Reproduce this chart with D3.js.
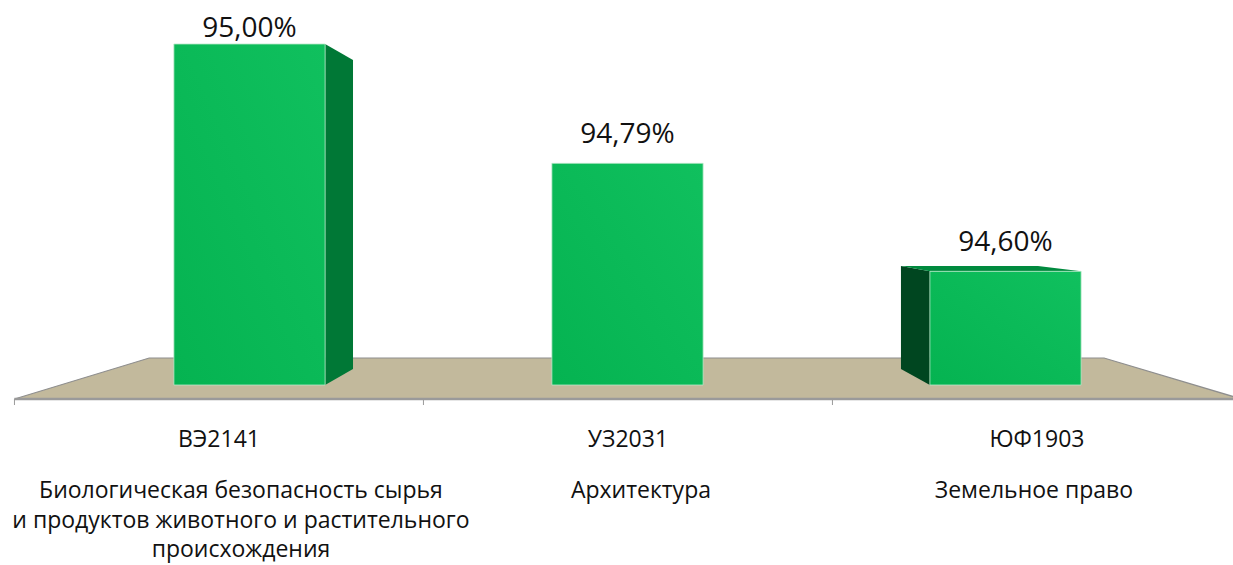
<!DOCTYPE html>
<html>
<head>
<meta charset="utf-8">
<script src="https://cdn.jsdelivr.net/npm/d3@7"></script>
<style>
  body { margin: 0; background: #fff; }
  text { font-family: "Open Sans", "Noto Sans", sans-serif; fill: #111; }
</style>
</head>
<body>
<div id="chart"></div>
<script>
// data
const categories = ["ВЭ2141", "УЗ2031", "ЮФ1903"];
const values = [95.00, 94.79, 94.60];
const valueLabels = ["95,00%", "94,79%", "94,60%"];
const descriptions = [
    ["Биологическая безопасность сырья", "и продуктов животного и растительного", "происхождения"],
    ["Архитектура"],
    ["Земельное право"]
];
const yDomain = [94.4, 95.0];

const width = 1233;
const height = 565;

// perspective: coordinates are in the plane of the bar front faces
const vp = { x: 622, y: 214 };
const sBack = 0.906;       // back faces of bars
const sFloorFront = 1.082; // front edge of floor
const sFloorBack = 0.842;  // back edge of floor

function proj(x, y, s) {
    return [vp.x + (x - vp.x) * s, vp.y + (y - vp.y) * s];
}

const svg = d3.select("#chart").append("svg")
    .attr("width", width)
    .attr("height", height);

const defs = svg.append("defs");
const grad = defs.append("linearGradient")
    .attr("id", "front")
    .attr("x1", "0%").attr("y1", "100%")
    .attr("x2", "100%").attr("y2", "0%");
grad.append("stop").attr("offset", "0%").attr("stop-color", "#05b351");
grad.append("stop").attr("offset", "100%").attr("stop-color", "#10c05e");

const x = d3.scaleBand()
    .domain(categories)
    .range([60.5, 1194.5])
    .paddingInner(0.6)
    .paddingOuter(0.3);

const y = d3.scaleLinear()
    .domain(yDomain)
    .range([385, 44]);

const base = y(yDomain[0]);

// floor
const fl = proj(60.5, base, sFloorFront);
const fr = proj(1194.5, base, sFloorFront);
const bl = proj(60.5, base, sFloorBack);
const br = proj(1194.5, base, sFloorBack);

svg.append("polygon")
    .attr("points", [fl, bl, br, fr].map(p => p.join(",")).join(" "))
    .attr("fill", "#c2b99c");

svg.append("path")
    .attr("d", `M${fl}L${bl}L${br}L${fr}`)
    .attr("fill", "none")
    .attr("stroke", "#8e8e8e")
    .attr("stroke-width", 1.2);

svg.append("line")
    .attr("x1", fl[0]).attr("y1", fl[1])
    .attr("x2", fr[0]).attr("y2", fr[1])
    .attr("stroke", "#9a9a9a")
    .attr("stroke-width", 2.5);

// category boundary ticks on the front edge
const step = x.step();
const bounds = d3.range(categories.length + 1).map(i => x.range()[0] + i * step);
svg.selectAll(".tick-mark")
    .data(bounds)
    .enter()
    .append("line")
    .attr("class", "tick-mark")
    .attr("x1", d => proj(d, base, sFloorFront)[0])
    .attr("x2", d => proj(d, base, sFloorFront)[0])
    .attr("y1", fl[1])
    .attr("y2", fl[1] + 6)
    .attr("stroke", "#9a9a9a")
    .attr("stroke-width", 1);

// bars
const bars = categories.map((c, i) => {
    const x0 = x(c), x1 = x(c) + x.bandwidth();
    const top = y(values[i]);
    return {
        c, i, top,
        f: [[x0, top], [x1, top], [x1, base], [x0, base]],
        b: [[x0, top], [x1, top], [x1, base], [x0, base]].map(p => proj(p[0], p[1], sBack))
    };
});

const pts = arr => arr.map(p => p.join(",")).join(" ");

bars.forEach(d => {
    const g = svg.append("g");
    const [f0, f1, f2, f3] = d.f;
    const [b0, b1, b2, b3] = d.b;
    if (f1[0] < vp.x) {
        g.append("polygon").attr("points", pts([f1, b1, b2, f2])).attr("fill", "#007836");
    }
    if (f0[0] > vp.x) {
        g.append("polygon").attr("points", pts([f0, b0, b3, f3])).attr("fill", "#004620");
    }
    if (d.top > vp.y) {
        g.append("polygon").attr("points", pts([f0, b0, b1, f1])).attr("fill", "#008a3e");
    }
    g.append("polygon")
        .attr("points", pts(d.f))
        .attr("fill", "url(#front)")
        .attr("stroke", "#b9e8c9")
        .attr("stroke-width", 0.8);
});

// value labels
svg.selectAll(".value")
    .data(bars)
    .enter()
    .append("text")
    .attr("class", "value")
    .attr("x", d => x(d.c) + x.bandwidth() / 2)
    .attr("y", d => Math.max(d.top - 20, 37))
    .attr("text-anchor", "middle")
    .style("font-size", "28px")
    .text(d => valueLabels[d.i]);

// category axis on the floor front edge
const xFloor = d3.scaleBand()
    .domain(categories)
    .range([fl[0], fr[0]]);

const axis = svg.append("g")
    .attr("transform", `translate(0, ${fl[1]})`)
    .call(d3.axisBottom(xFloor).tickSize(0));
axis.select(".domain").remove();
axis.selectAll("text")
    .attr("y", 48)
    .attr("dy", 0)
    .style("font-size", "23px")
    .style("font-family", "\"Open Sans\", sans-serif")
    .attr("fill", "#111");

// descriptions
const descShift = [22, 13, -3];
const desc = svg.selectAll(".desc")
    .data(descriptions)
    .enter()
    .append("text")
    .attr("class", "desc")
    .attr("text-anchor", "middle")
    .style("font-size", "23px");

desc.each(function (lines, i) {
    const cx = xFloor(categories[i]) + xFloor.bandwidth() / 2 + descShift[i];
    d3.select(this).selectAll("tspan")
        .data(lines)
        .enter()
        .append("tspan")
        .attr("x", cx)
        .attr("y", (l, j) => 498 + j * 29.5)
        .text(l => l);
});
</script>
</body>
</html>
